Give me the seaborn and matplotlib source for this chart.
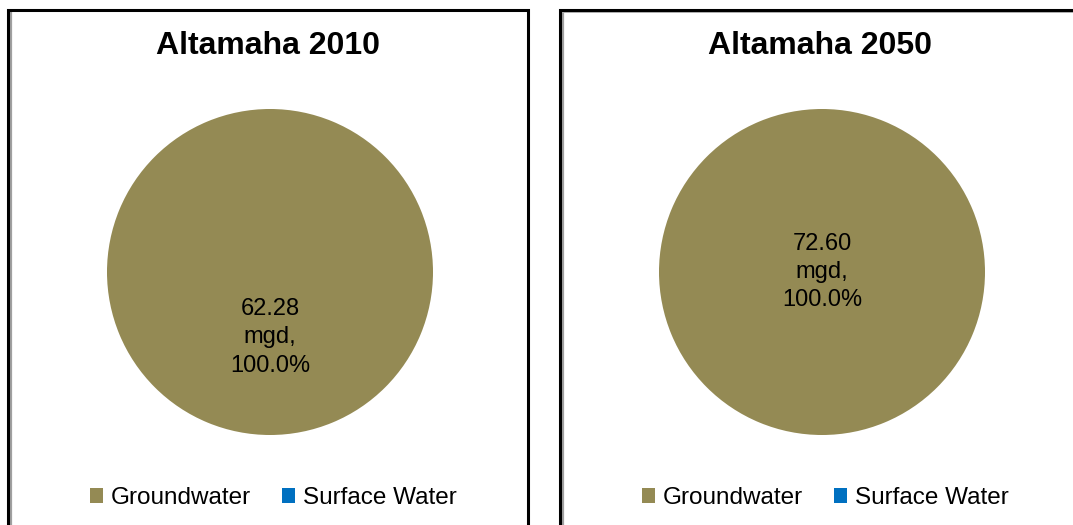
import matplotlib
matplotlib.use("Agg")
import matplotlib.pyplot as plt
import seaborn as sns
from matplotlib.patches import Rectangle
from matplotlib.lines import Line2D

sns.set_style("white")
plt.rcParams['font.family'] = ['Liberation Sans', 'DejaVu Sans']
plt.rcParams['text.color'] = 'black'

titles = ["Altamaha 2010", "Altamaha 2050"]
categories = ["Groundwater", "Surface Water"]
groundwater = [62.28, 72.60]
surface_water = [0.0, 0.0]
colors = ["#948A54", "#0070C0"]

W, H = 1073, 525
fig = plt.figure(figsize=(W / 100, H / 100), dpi=100)
fig.patch.set_facecolor("white")

# panel layout in pixels
panels = [
    dict(x0=8, x1=528, cx=270, cy=272, r=163, pctdist=0.40, tx=268, lx=273),
    dict(x0=560, x1=1090, cx=822, cy=272, r=163, pctdist=0.0, tx=820, lx=825),
]

for i, p in enumerate(panels):
    # panel frame
    fig.patches.append(Rectangle((p["x0"] / W, 1 - 540 / H), (p["x1"] - p["x0"]) / W,
                                 (540 - 10) / H, transform=fig.transFigure,
                                 fill=False, edgecolor="black", linewidth=2.2, zorder=5))
    fig.add_artist(Line2D([(p["x0"] + 2.5) / W] * 2, [0, 1 - 11 / H],
                          transform=fig.transFigure, color="#a0a0a0", linewidth=1.6, zorder=4))
    if i == 1:
        fig.add_artist(Line2D([(p["x0"] + 2) / W, 1], [1 - 12 / H] * 2,
                              transform=fig.transFigure, color="#b0b0b0", linewidth=1.4, zorder=4))

    ax = fig.add_axes([(p["cx"] - p["r"]) / W, 1 - (p["cy"] + p["r"]) / H,
                       2 * p["r"] / W, 2 * p["r"] / H])
    vals = [groundwater[i], surface_water[i]]
    total = sum(vals)

    def fmt(pct, t=total):
        if pct <= 0:
            return ""
        return f"{pct * t / 100:.2f}\nmgd,\n{pct:.1f}%"

    wedges, texts, autotexts = ax.pie(vals, colors=colors, startangle=90, counterclock=False,
                                      autopct=fmt, pctdistance=p["pctdist"],
                                      wedgeprops=dict(linewidth=0),
                                      textprops=dict(fontsize=17, color="black"))
    for t in autotexts:
        t.set_linespacing(1.38)
    ax.set_xlim(-1, 1)
    ax.set_ylim(-1, 1)
    ax.set_aspect("equal")
    ax.axis("off")

    fig.text(p["tx"] / W, 1 - 46 / H, titles[i], color="black",
             ha="center", va="center", fontsize=23, fontweight="bold")

    leg = fig.legend(wedges, categories, loc="center",
                     bbox_to_anchor=(p["lx"] / W, 1 - 498 / H),
                     ncol=2, frameon=False, fontsize=17.5, handlelength=0.55, handleheight=0.55,
                     handletextpad=0.3, columnspacing=1.3, borderpad=0)
    for t in leg.get_texts():
        t.set_color("black")

fig.savefig("out.png", dpi=100)
